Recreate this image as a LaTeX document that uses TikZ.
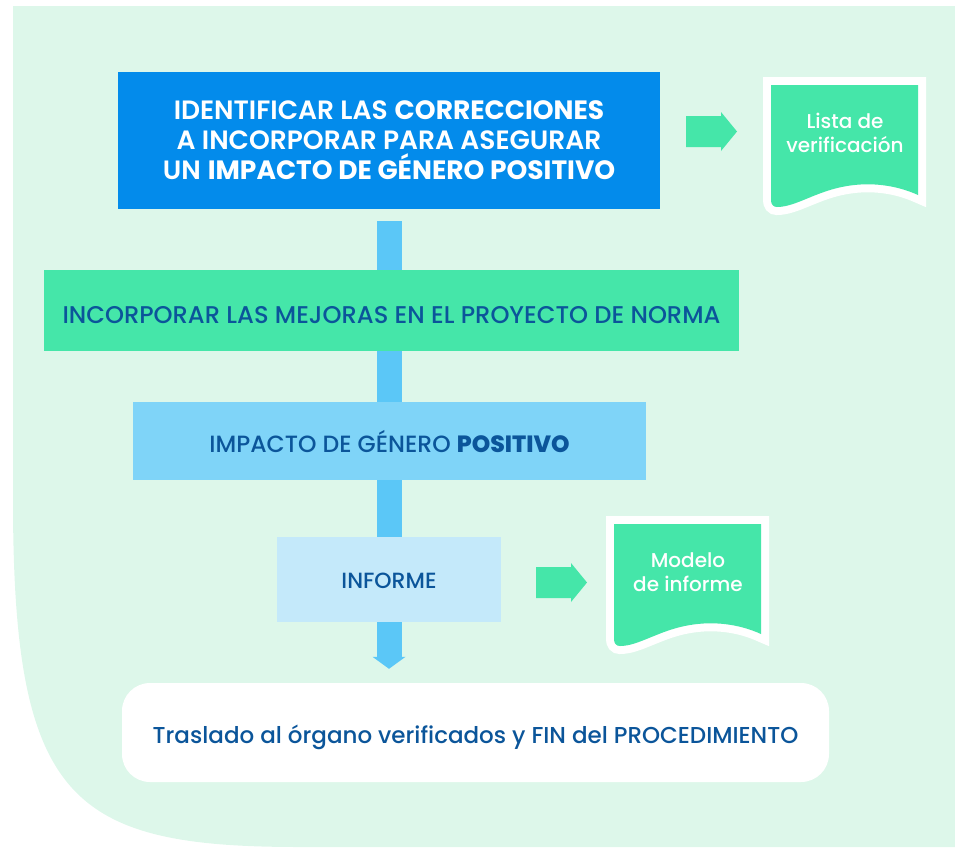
\documentclass[tikz,border=0pt]{standalone}
\usepackage{fontspec}
\setmainfont{Poppins}
\IfFontExistsTF{Poppins Medium}{\newfontfamily\medf{Poppins Medium}}{\newfontfamily\medf{Poppins}[FakeBold=2]}
\IfFontExistsTF{Poppins SemiBold}{\newfontfamily\semib{Poppins SemiBold}}{\newfontfamily\semib{Poppins}[FakeBold=3]}
\usetikzlibrary{calc}
\definecolor{bgmint}{RGB}{221,247,234}
\definecolor{topblue}{RGB}{3,139,235}
\definecolor{docgreen}{RGB}{69,230,169}
\definecolor{connblue}{RGB}{91,199,247}
\definecolor{midblue}{RGB}{127,212,248}
\definecolor{paleblue}{RGB}{196,233,250}
\definecolor{darktext}{RGB}{11,85,154}
\newcommand\docpath{(0,0) -- (147,0) -- (147,110) .. controls (125,100) and (100,97) .. (76,101) .. controls (45,106) and (25,122) .. (6,122) .. controls (2,122) and (0,119) .. (0,115) -- cycle}
\tikzset{
  box/.style={rectangle, inner sep=0pt, align=center, text=darktext},
  bar/.style={draw=connblue, line width=25pt},
  doctext/.style={align=center, text=white, font=\medf\fontsize{20}{24}\selectfont},
  docshape/.pic={
    \draw[white, line width=16pt, line join=miter] \docpath;
    \fill[docgreen] \docpath;
  },
  blockarrow/.pic={
    \fill[docgreen] (0,-15.5) -- (35,-15.5) -- (35,-19.5) -- (51,0) -- (35,19.5) -- (35,15.5) -- (0,15.5) -- cycle;
  }
}
\begin{document}
\begin{tikzpicture}[x=1pt,y=-1pt]
\useasboundingbox (0,0) rectangle (955,847);
\fill[bgmint] (13,6) -- (955,6) -- (955,847) -- (300,847) .. controls (70,847) and (13,800) .. (13,500) -- cycle;

% main boxes
\node[box, fill=topblue, text=white, minimum width=542pt, minimum height=137pt,
  font=\fontsize{26.5}{30}\selectfont] (top) at (389,140.5)
  {{\semib IDENTIFICAR LAS} \textbf{CORRECCIONES}\\
   {\semib A INCORPORAR PARA ASEGURAR}\\
   {\semib UN} \textbf{IMPACTO DE GÉNERO POSITIVO}};
\node[box, fill=docgreen, minimum width=695pt, minimum height=81pt,
  text height=26pt, text depth=0pt,
  font=\medf\fontsize{24.2}{27}\selectfont] (green) at (391.5,310.5)
  {INCORPORAR LAS MEJORAS EN EL PROYECTO DE NORMA};
\node[box, fill=midblue, minimum width=513pt, minimum height=78pt,
  text height=22.5pt, text depth=0pt,
  font=\medf\fontsize{23.5}{25}\selectfont] (impact) at (389.5,441)
  {IMPACTO DE GÉNERO \textbf{POSITIVO}};
\node[box, fill=paleblue, minimum width=224pt, minimum height=85pt,
  text height=18.5pt, text depth=0pt,
  font=\medf\fontsize{22}{23}\selectfont] (informe) at (389,579.5) {INFORME};
\node[box, fill=white, minimum width=707pt, minimum height=99pt,
  text height=21pt, text depth=0pt,
  rounded corners=28pt, font=\medf\fontsize{23}{25}\selectfont] (final) at (475.5,732.5)
  {Traslado al órgano verificados y FIN del PROCEDIMIENTO};

% documents
\pic at (771,85) {docshape};
\pic at (614,524) {docshape};
\node[doctext] (doc1) at (845,133) {Lista de\\verificación};
\node[doctext] (doc2) at (688,572) {Modelo\\de informe};

% side arrows
\pic at (686,131.5) {blockarrow};
\pic at (536,582.5) {blockarrow};

% vertical connectors
\draw[bar] ([yshift=-12pt]top.south) -- (top.south |- green.north);
\draw[bar] (top.south |- green.south) -- (top.south |- impact.north);
\draw[bar] (top.south |- impact.south) -- (top.south |- informe.north);
\path ([yshift=14pt]final.north) coordinate (ft);
\coordinate (tip) at (top.south |- ft);
\draw[bar] (top.south |- informe.south) -- ($(tip)+(0,-11)$);
\fill[connblue] (tip) -- ++(16.5,-12) -- ++(-33,0) -- cycle;
\end{tikzpicture}
\end{document}
